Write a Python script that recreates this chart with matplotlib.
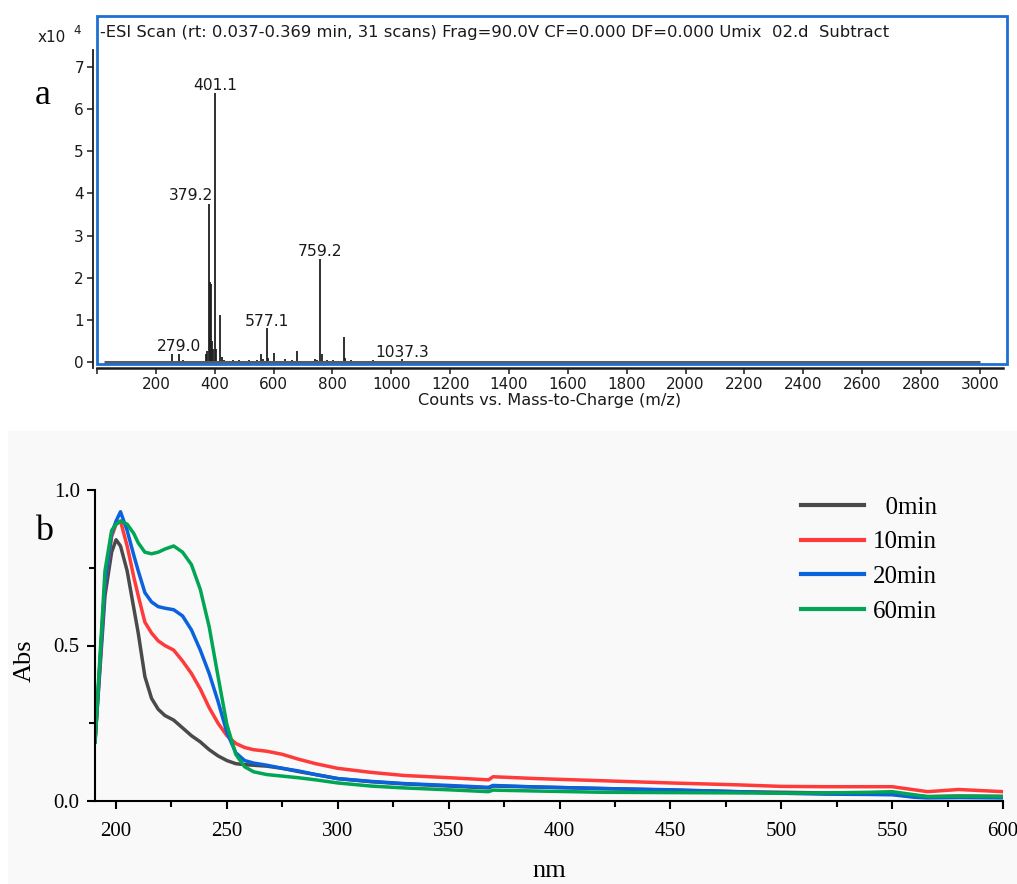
import matplotlib.pyplot as plt
from matplotlib.patches import Rectangle
from matplotlib.ticker import FixedLocator

# ---- panel a: ESI mass spectrum (intensity in x10^4 counts)
ms_mz = [254, 279.0, 292, 370, 374, 379.2, 383, 386, 390, 395, 401.1, 406, 418, 424,
         432, 462, 484, 518, 545, 557, 563, 577.1, 582, 600, 640, 661, 680, 741, 748,
         759.2, 764, 783, 802, 839, 844, 862, 938, 1037.3, 1118]
ms_int = [0.18, 0.20, 0.05, 0.20, 0.25, 3.75, 1.90, 1.85, 0.50, 0.30, 6.38, 0.30, 1.12, 0.12,
          0.05, 0.04, 0.04, 0.05, 0.05, 0.20, 0.06, 0.80, 0.10, 0.22, 0.07, 0.04, 0.25, 0.07, 0.05,
          2.45, 0.20, 0.04, 0.04, 0.59, 0.10, 0.04, 0.04, 0.06, 0.03]
baseline_mz = [25, 3000]
labelled_mz = [279.0, 379.2, 401.1, 577.1, 759.2, 1037.3]
ms_title = ('-ESI Scan (rt: 0.037-0.369 min, 31 scans) Frag=90.0V CF=0.000 '
            'DF=0.000 Umix  02.d  Subtract')

# ---- panel b: UV absorbance
nm = [190.5, 195, 198, 200, 202, 205, 208, 210, 213, 216, 219, 222, 226, 230, 234, 238,
      242, 246, 250, 254, 258, 262, 268, 275, 282, 290, 300, 315, 330, 350, 368, 370,
      390, 420, 450, 480, 500, 520, 540, 550, 560, 566, 580, 600]
abs_0 = [0.19, 0.66, 0.80, 0.84, 0.82, 0.74, 0.62, 0.54, 0.40, 0.33, 0.295, 0.275, 0.26,
         0.235, 0.21, 0.19, 0.165, 0.145, 0.13, 0.12, 0.117, 0.115, 0.112, 0.105, 0.095,
         0.085, 0.072, 0.062, 0.055, 0.048, 0.042, 0.048, 0.045, 0.040, 0.035, 0.030,
         0.028, 0.026, 0.024, 0.024, 0.018, 0.014, 0.016, 0.015]
abs_10 = [0.19, 0.70, 0.85, 0.89, 0.90, 0.82, 0.72, 0.66, 0.575, 0.54, 0.515, 0.50, 0.485,
          0.45, 0.41, 0.36, 0.30, 0.25, 0.21, 0.185, 0.172, 0.165, 0.160, 0.150, 0.135,
          0.12, 0.105, 0.092, 0.082, 0.075, 0.068, 0.078, 0.072, 0.065, 0.058, 0.052,
          0.047, 0.046, 0.046, 0.046, 0.036, 0.030, 0.037, 0.030]
abs_20 = [0.19, 0.70, 0.86, 0.90, 0.93, 0.87, 0.79, 0.74, 0.67, 0.64, 0.625, 0.62, 0.615,
          0.595, 0.55, 0.485, 0.41, 0.32, 0.22, 0.155, 0.13, 0.122, 0.115, 0.105, 0.097,
          0.085, 0.072, 0.063, 0.056, 0.050, 0.044, 0.050, 0.045, 0.040, 0.036, 0.030,
          0.025, 0.022, 0.021, 0.020, 0.012, 0.010, 0.011, 0.010]
abs_60 = [0.19, 0.74, 0.87, 0.89, 0.90, 0.89, 0.86, 0.83, 0.80, 0.795, 0.80, 0.81, 0.82,
          0.80, 0.76, 0.68, 0.56, 0.40, 0.245, 0.15, 0.11, 0.094, 0.085, 0.080, 0.075,
          0.068, 0.058, 0.048, 0.042, 0.036, 0.030, 0.035, 0.032, 0.028, 0.027, 0.026,
          0.025, 0.026, 0.028, 0.030, 0.020, 0.014, 0.015, 0.014]
uv_labels = ['  0min', '10min', '20min', '60min']
uv_colors = ['#4a4a4a', '#ff3a3a', '#0a62dc', '#00a653']
abs_ticks = [0.0, 0.5, 1.0]

W, H = 1017, 884
fig = plt.figure(figsize=(W / 100, H / 100), dpi=100)


def fx(px):
    return px / W


def fy(py):
    return 1 - py / H


# gray backdrop of the lower panel
fig.patches.append(Rectangle((fx(8), 0), 1 - fx(8), fy(431), transform=fig.transFigure,
                             facecolor='#f9f9f9', edgecolor='none', zorder=-10))

# ================= panel a =================
ink = '#1a1a1a'
axa = fig.add_axes([fx(93), fy(368), fx(1007 - 93), (368 - 16) / H])
axa.patch.set_alpha(0)
axa.vlines(ms_mz, 0, ms_int, color='#202020', lw=1.3)
axa.plot(baseline_mz, [0, 0], color='#5a5a5a', lw=2.2, solid_capstyle='butt')
for m in labelled_mz:
    h = ms_int[ms_mz.index(m)]
    if m == 379.2:
        axa.annotate(f'{m:.1f}', (m, h), xytext=(3, 3), textcoords='offset points',
                     ha='right', va='baseline', fontsize=11.2, color=ink)
    else:
        axa.annotate(f'{m:.1f}', (m, h), xytext=(0, 2), textcoords='offset points',
                     ha='center', va='baseline', fontsize=11.2, color=ink)

axa.set_xlim(-13.6, 3092)
axa.set_ylim(-0.142, 8.21)
for s in ['top', 'right']:
    axa.spines[s].set_visible(False)
axa.spines['left'].set_bounds(-0.142, 7.4)
axa.spines['bottom'].set_bounds(0, 3080)
axa.spines['left'].set_color(ink)
axa.spines['bottom'].set_color(ink)
axa.spines['left'].set_linewidth(1.3)
axa.spines['bottom'].set_linewidth(1.8)
axa.set_yticks(range(0, 8))
axa.set_xticks(range(0, 3001, 200))
axa.set_xticklabels([''] + [str(v) for v in range(200, 3001, 200)])
axa.tick_params(labelsize=11, length=4.5, width=1.1, colors=ink, pad=2)
axa.set_xlabel('Counts vs. Mass-to-Charge (m/z)', fontsize=11.6, color=ink, labelpad=1)

fig.patches.append(Rectangle((fx(97), fy(364)), fx(1007 - 97), (364 - 16) / H,
                             transform=fig.transFigure, fill=False,
                             edgecolor='#1e6fd2', lw=2.0, zorder=5))
fig.text(fx(100), fy(33), ms_title, fontsize=11.8, color=ink, va='center', ha='left')
fig.text(fx(38), fy(37), 'x10', fontsize=11, color=ink, va='center', ha='left')
fig.text(fx(73), fy(31), '4', fontsize=8.5, color=ink, va='center', ha='left')
fig.text(fx(35), fy(95), 'a', fontsize=26, family='Liberation Serif', va='center', ha='left')

# ================= panel b =================
serif = 'Liberation Serif'
axb = fig.add_axes([fx(95), fy(801), fx(1003 - 95), (801 - 490) / H])
axb.patch.set_alpha(0)
for y, lab, c in zip([abs_0, abs_10, abs_20, abs_60], uv_labels, uv_colors):
    axb.plot(nm, y, color=c, lw=2.5, label=lab, solid_joinstyle='round')
axb.set_xlim(190.5, 600)
axb.set_ylim(0, 1.0)
for s in ['top', 'right']:
    axb.spines[s].set_visible(False)
for s in ['left', 'bottom']:
    axb.spines[s].set_linewidth(1.5)
axb.xaxis.set_major_locator(FixedLocator(range(200, 601, 50)))
axb.xaxis.set_minor_locator(FixedLocator(range(225, 600, 50)))
axb.yaxis.set_major_locator(FixedLocator(abs_ticks))
axb.yaxis.set_minor_locator(FixedLocator([0.25, 0.75]))
axb.set_yticklabels([f'{v:.1f}' for v in abs_ticks])
axb.tick_params(which='major', length=6, width=1.5, labelsize=15, direction='out')
axb.tick_params(which='minor', length=4, width=1.5, direction='out')
axb.tick_params(axis='x', pad=9)
axb.tick_params(axis='y', pad=5)
for t in axb.get_xticklabels() + axb.get_yticklabels():
    t.set_family(serif)
axb.set_xlabel('nm', fontsize=19, family=serif, labelpad=14)
axb.set_ylabel('Abs', fontsize=19, family=serif)
axb.yaxis.set_label_coords((36 - 95) / (1003 - 95), 0.45)

leg = axb.legend(loc='upper left', bbox_to_anchor=(fx(778), fy(474)),
                 bbox_transform=fig.transFigure, frameon=False,
                 prop={'family': serif, 'size': 18}, handlelength=2.55,
                 handletextpad=0.35, labelspacing=0.48)
for line in leg.get_lines():
    line.set_linewidth(3)

fig.text(fx(35), fy(532), 'b', fontsize=26, family=serif, va='center', ha='left')

fig.savefig('out.png', dpi=100)
